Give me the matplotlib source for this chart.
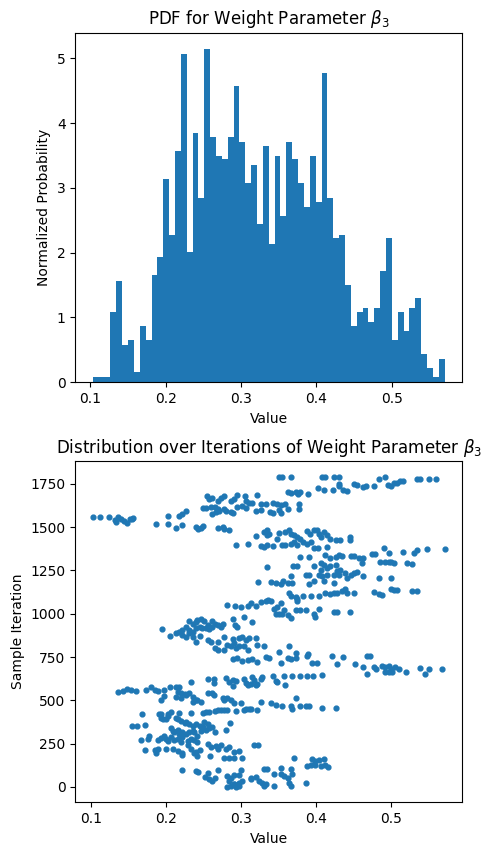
import numpy as np
import matplotlib
matplotlib.use("Agg")
import matplotlib.pyplot as plt

# histogram: 60 bins, density heights
bin_lo, bin_hi, n_bins = 0.1036, 0.570, 60
pdf_heights = [
    0.08, 0.08, 0.08, 1.08, 1.57, 0.57, 0.65, 0.16, 0.87, 0.65,
    1.65, 1.93, 3.14, 2.28, 3.57, 5.07, 2.01, 3.85, 2.85, 5.14,
    3.79, 3.50, 3.44, 3.79, 4.57, 3.71, 3.07, 3.36, 2.44, 3.64,
    2.14, 3.50, 2.57, 3.71, 3.44, 3.07, 2.71, 3.50, 2.79, 4.77,
    2.85, 2.22, 2.28, 1.50, 0.87, 1.08, 1.14, 0.93, 1.14, 1.71,
    2.22, 0.65, 1.08, 0.79, 1.14, 1.30, 0.44, 0.22, 0.08, 0.36,
]

# trace samples (value, iteration)
beta3_values = [
    # 1700-1800
    0.351, 0.355, 0.367, 0.408, 0.412, 0.424, 0.431, 0.491, 0.483, 0.534,
    0.538, 0.550, 0.560, 0.402, 0.410, 0.423, 0.430, 0.431, 0.436, 0.441,
    0.450, 0.454, 0.466, 0.463, 0.477, 0.496, 0.499, 0.503, 0.507, 0.512,
    0.516, 0.362, 0.366, 0.373, 0.379, 0.389, 0.376,
    # 1580-1690
    0.255, 0.258, 0.262, 0.269, 0.273, 0.278, 0.287, 0.291, 0.295, 0.305,
    0.307, 0.311, 0.315, 0.322, 0.326, 0.333, 0.343, 0.348, 0.353, 0.358,
    0.363, 0.377, 0.377, 0.249, 0.253, 0.260, 0.265, 0.269, 0.278, 0.280,
    0.287, 0.290, 0.295, 0.302, 0.307, 0.320, 0.327, 0.339, 0.342, 0.351,
    0.353, 0.262, 0.267, 0.271,
    # 1480-1590
    0.103, 0.112, 0.124, 0.132, 0.134, 0.137, 0.141, 0.145, 0.149, 0.152,
    0.155, 0.157, 0.203, 0.218, 0.222, 0.227, 0.187, 0.203, 0.214, 0.222,
    0.240, 0.243, 0.247, 0.250, 0.269, 0.276, 0.278, 0.284,
    # 1380-1490
    0.320, 0.331, 0.334, 0.337, 0.334, 0.351, 0.358, 0.364, 0.366, 0.371,
    0.375, 0.379, 0.388, 0.392, 0.397, 0.401, 0.404, 0.406, 0.410, 0.415,
    0.419, 0.426, 0.432, 0.445, 0.445, 0.293, 0.309, 0.327, 0.331, 0.335,
    0.343, 0.348, 0.354, 0.359, 0.366, 0.371, 0.375, 0.382, 0.388, 0.393,
    0.397, 0.402, 0.415,
    # 1290-1380
    0.490, 0.497, 0.516, 0.530, 0.534, 0.547, 0.571, 0.379, 0.390, 0.412,
    0.419, 0.426, 0.430, 0.435, 0.446, 0.450, 0.457, 0.463, 0.474, 0.479,
    0.485, 0.492, 0.497, 0.499, 0.503, 0.521, 0.528,
    # 1170-1300
    0.369, 0.375, 0.397, 0.406, 0.410, 0.406, 0.415, 0.419, 0.426, 0.428,
    0.432, 0.439, 0.446, 0.450, 0.454, 0.461, 0.462, 0.335, 0.386, 0.390,
    0.366, 0.404, 0.408, 0.415, 0.424, 0.430, 0.441, 0.483, 0.499, 0.323,
    0.340, 0.346, 0.353, 0.356, 0.362, 0.368, 0.390, 0.397, 0.410, 0.424,
    # 1075-1145
    0.364, 0.366, 0.373, 0.375, 0.382, 0.393, 0.404, 0.412, 0.419, 0.424,
    0.428, 0.435, 0.439, 0.441, 0.450, 0.477, 0.483, 0.488, 0.499, 0.503,
    0.507, 0.527, 0.534, 0.375,
    # 920-1080
    0.281, 0.292, 0.300, 0.309, 0.314, 0.320, 0.326, 0.333, 0.336, 0.340,
    0.344, 0.348, 0.353, 0.357, 0.362, 0.366, 0.346, 0.351, 0.355, 0.373,
    0.379, 0.386, 0.397, 0.399, 0.404, 0.424, 0.428, 0.445, 0.304, 0.315,
    0.290, 0.292, 0.295,
    # 790-970
    0.231, 0.236, 0.240, 0.242, 0.247, 0.251, 0.256, 0.262, 0.265, 0.269,
    0.273, 0.276, 0.227, 0.222, 0.231, 0.236, 0.240, 0.245, 0.248, 0.253,
    0.258, 0.262, 0.195, 0.206, 0.214, 0.218, 0.222, 0.227, 0.231, 0.236,
    0.240, 0.246, 0.256, 0.260, 0.269, 0.278, 0.289, 0.291, 0.298, 0.302,
    0.307, 0.311, 0.320, 0.282, 0.287, 0.293, 0.298, 0.304, 0.309, 0.322,
    0.331, 0.265, 0.269, 0.278,
    # 650-810
    0.351, 0.364, 0.373, 0.389, 0.289, 0.295, 0.302, 0.309, 0.315, 0.322,
    0.333, 0.337, 0.353, 0.362, 0.366, 0.373, 0.388, 0.395, 0.401, 0.421,
    0.428, 0.436, 0.452, 0.463, 0.468, 0.472, 0.477, 0.480, 0.488, 0.492,
    0.497, 0.499, 0.501, 0.505, 0.510, 0.519, 0.538, 0.545, 0.550, 0.567,
    0.492, 0.497, 0.468,
    # 580-650
    0.234, 0.256, 0.264, 0.264, 0.280, 0.284, 0.289, 0.293, 0.289, 0.304,
    0.307, 0.309, 0.313, 0.315, 0.317, 0.320, 0.322, 0.326, 0.328, 0.342,
    0.346, 0.348, 0.357, 0.359, 0.368, 0.379, 0.388, 0.396, 0.408,
    # 535-580
    0.136, 0.143, 0.149, 0.154, 0.160, 0.174, 0.180, 0.185, 0.190, 0.198,
    0.205, 0.214, 0.218, 0.216, 0.220, 0.225, 0.231,
    # 425-540
    0.198, 0.194, 0.214, 0.220, 0.227, 0.236, 0.240, 0.236, 0.242, 0.247,
    0.256, 0.262, 0.264, 0.276, 0.278, 0.282, 0.287, 0.291, 0.300, 0.307,
    0.313, 0.326, 0.340, 0.346, 0.355, 0.366, 0.368, 0.373, 0.379, 0.386,
    0.390, 0.408, 0.426, 0.249, 0.253, 0.258, 0.265, 0.269, 0.273, 0.278,
    0.282, 0.293, 0.304, 0.311, 0.322,
    # 255-430
    0.168, 0.191, 0.194, 0.203, 0.207, 0.218, 0.234, 0.194, 0.196, 0.200,
    0.203, 0.214, 0.216, 0.220, 0.225, 0.227, 0.231, 0.236, 0.240, 0.245,
    0.249, 0.251, 0.256, 0.262, 0.265, 0.280, 0.286, 0.155, 0.162, 0.172,
    0.207, 0.209, 0.211, 0.216, 0.218, 0.222, 0.227, 0.231, 0.236, 0.238,
    0.242, 0.247, 0.253, 0.258, 0.167, 0.176, 0.178, 0.189, 0.194, 0.198,
    0.200, 0.203, 0.207, 0.211, 0.216, 0.220, 0.222, 0.229, 0.234, 0.238,
    0.242,
    # 110-250
    0.172, 0.185, 0.189, 0.187, 0.200, 0.209, 0.216, 0.222, 0.229, 0.234,
    0.240, 0.245, 0.256, 0.260, 0.267, 0.269, 0.273, 0.280, 0.284, 0.291,
    0.298, 0.317, 0.323, 0.222, 0.238, 0.242, 0.259, 0.278, 0.284, 0.291,
    0.302, 0.370, 0.395, 0.398, 0.404, 0.410, 0.393, 0.399, 0.406, 0.412,
    0.416, 0.388,
    # 0-110
    0.221, 0.240, 0.243, 0.256, 0.270, 0.331, 0.335, 0.353, 0.366, 0.252,
    0.258, 0.262, 0.265, 0.282, 0.287, 0.291, 0.298, 0.300, 0.284, 0.291,
    0.298, 0.302, 0.313, 0.320, 0.324, 0.328, 0.333, 0.344, 0.353, 0.357,
    0.362, 0.368, 0.364, 0.366, 0.344, 0.386, 0.282, 0.287, 0.291, 0.293,
    0.298, 0.331, 0.314,
]
sample_iterations = [
    # 1700-1800
    1793, 1793, 1793, 1788, 1788, 1788, 1788, 1788, 1778, 1780,
    1780, 1780, 1780, 1727, 1718, 1718, 1750, 1737, 1718, 1712,
    1750, 1746, 1737, 1733, 1737, 1746, 1737, 1756, 1756, 1765,
    1765, 1705, 1699, 1705, 1705, 1693, 1693,
    # 1580-1690
    1680, 1661, 1667, 1652, 1671, 1680, 1652, 1661, 1686, 1680,
    1652, 1642, 1642, 1686, 1633, 1633, 1642, 1637, 1629, 1633,
    1604, 1637, 1604, 1614, 1614, 1618, 1618, 1604, 1604, 1595,
    1586, 1580, 1618, 1623, 1614, 1595, 1599, 1586, 1580, 1599,
    1580, 1576, 1586, 1595,
    # 1480-1590
    1557, 1557, 1557, 1542, 1529, 1561, 1548, 1538, 1523, 1548,
    1548, 1553, 1567, 1567, 1576, 1591, 1519, 1516, 1497, 1514,
    1500, 1491, 1497, 1510, 1497, 1504, 1491, 1485,
    # 1380-1490
    1448, 1472, 1482, 1463, 1453, 1467, 1472, 1482, 1463, 1453,
    1444, 1434, 1478, 1463, 1485, 1482, 1463, 1444, 1472, 1453,
    1434, 1425, 1429, 1444, 1429, 1397, 1402, 1393, 1387, 1397,
    1391, 1434, 1397, 1397, 1406, 1415, 1397, 1415, 1406, 1415,
    1378, 1378, 1387,
    # 1290-1380
    1378, 1349, 1359, 1349, 1368, 1372, 1372, 1330, 1330, 1340,
    1321, 1330, 1340, 1334, 1334, 1334, 1321, 1321, 1346, 1346,
    1302, 1302, 1302, 1302, 1296, 1296, 1289,
    # 1170-1300
    1274, 1274, 1274, 1293, 1283, 1255, 1264, 1274, 1283, 1245,
    1255, 1236, 1226, 1236, 1240, 1293, 1217, 1270, 1226, 1226,
    1217, 1226, 1217, 1226, 1226, 1226, 1208, 1208, 1208, 1183,
    1183, 1175, 1170, 1189, 1179, 1179, 1170, 1189, 1189, 1179,
    # 1075-1145
    1119, 1104, 1094, 1085, 1100, 1104, 1104, 1122, 1113, 1122,
    1122, 1132, 1141, 1122, 1122, 1126, 1113, 1107, 1141, 1138,
    1138, 1132, 1132, 1075,
    # 920-1080
    1051, 1047, 1037, 1047, 1062, 1047, 1066, 1075, 1081, 1075,
    1028, 1037, 1062, 1019, 990, 975, 1000, 1000, 996, 1019,
    1024, 1024, 1000, 981, 1028, 1009, 1009, 1013, 981, 952,
    971, 937, 924,
    # 790-970
    956, 943, 952, 962, 968, 956, 937, 956, 943, 934,
    924, 943, 924, 905, 905, 896, 915, 924, 915, 918,
    911, 924, 911, 873, 886, 896, 877, 867, 886, 867,
    839, 873, 849, 839, 835, 867, 854, 830, 858, 867,
    849, 858, 858, 820, 811, 801, 811, 811, 792, 820,
    811, 801, 792, 792,
    # 650-810
    779, 811, 773, 767, 737, 746, 728, 731, 737, 724,
    750, 743, 718, 746, 737, 743, 756, 713, 718, 756,
    709, 750, 709, 694, 756, 756, 690, 681, 699, 690,
    699, 681, 662, 690, 681, 662, 686, 653, 681, 681,
    662, 662, 653,
    # 580-650
    606, 624, 624, 600, 630, 606, 619, 611, 581, 624,
    600, 587, 596, 634, 615, 587, 596, 624, 634, 638,
    611, 606, 638, 587, 643, 643, 638, 643, 649,
    # 535-580
    549, 555, 568, 562, 555, 562, 574, 562, 555, 559,
    574, 574, 578, 549, 544, 536, 540,
    # 425-540
    525, 503, 521, 512, 531, 517, 503, 493, 503, 493,
    540, 540, 531, 512, 503, 512, 503, 484, 484, 450,
    450, 488, 484, 474, 469, 465, 450, 512, 465, 465,
    469, 456, 456, 427, 431, 431, 437, 442, 442, 446,
    446, 437, 446, 450, 442,
    # 255-430
    422, 422, 418, 418, 431, 427, 424, 399, 394, 390,
    409, 399, 390, 381, 371, 375, 362, 352, 362, 349,
    343, 375, 362, 343, 319, 330, 371, 352, 352, 356,
    338, 324, 315, 330, 306, 319, 306, 315, 324, 315,
    296, 324, 330, 338, 268, 277, 296, 268, 281, 296,
    274, 262, 287, 268, 274, 259, 287, 262, 277, 268,
    259,
    # 110-250
    212, 212, 217, 193, 217, 217, 206, 193, 240, 217,
    203, 212, 249, 231, 236, 221, 240, 221, 231, 203,
    206, 240, 240, 184, 193, 180, 180, 169, 165, 169,
    165, 165, 161, 150, 156, 161, 127, 124, 118, 127,
    112, 118,
    # 0-110
    99, 90, 86, 81, 99, 105, 105, 109, 105, 56,
    43, 34, 52, 62, 52, 67, 67, 99, 34, 19,
    24, 34, 49, 56, 34, 24, 15, 75, 75, 62,
    52, 75, 24, 6, 6, 24, 0, 6, 15, 0,
    6, 6, 43,
]

bin_edges = np.linspace(bin_lo, bin_hi, n_bins + 1)

fig = plt.figure(figsize=(4.91, 8.55), dpi=100)
ax1 = fig.add_axes([0.1534, 0.5529, 0.788, 0.4089])
ax2 = fig.add_axes([0.1534, 0.0616, 0.788, 0.3992])

ax1.hist(bin_edges[:-1], bins=bin_edges, weights=pdf_heights, color="#1f77b4")
ax1.set_title(r"PDF for Weight Parameter $\beta_3$")
ax1.set_xlabel("Value")
ax1.set_ylabel("Normalized Probability")

ax2.scatter(beta3_values, sample_iterations, s=12, color="#1f77b4")
ax2.set_title(r"Distribution over Iterations of Weight Parameter $\beta_3$")
ax2.set_xlabel("Value")
ax2.set_ylabel("Sample Iteration")

fig.savefig("out.png", dpi=100)
